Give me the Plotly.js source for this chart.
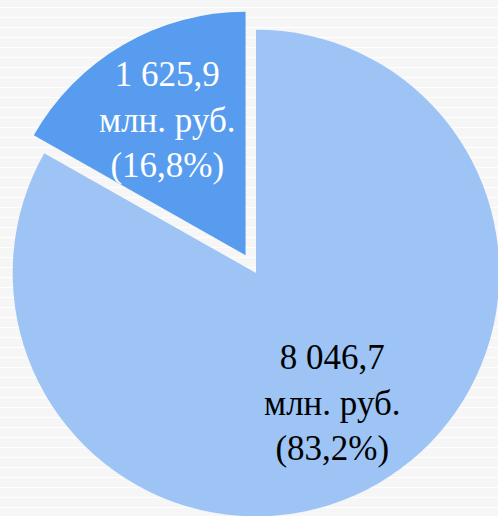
<!DOCTYPE html>
<html>
<head>
<meta charset="utf-8">
<script src="https://cdn.plot.ly/plotly-3.0.1.min.js"></script>
<style>
  html, body { margin: 0; padding: 0; width: 498px; height: 516px; overflow: hidden; }
  body {
    background-color: #f6f6f6;
    background-image: repeating-linear-gradient(to bottom, #f6f6f6 0px, #f6f6f6 7px, #ffffff 7px, #ffffff 8px, #f6f6f6 8px, #f6f6f6 10px);
    position: relative;
  }
  #chart { position: absolute; left: -8px; top: 9px; width: 528px; height: 528px; }
</style>
</head>
<body>
<div id="chart"></div>
<script>
// ---- data ----
var categories = ["Часть 2", "Часть 1"];
var values = [8046.7, 1625.9];
var unitLabel = "млн. руб.";
var sliceColors = ["#9dc4f5", "#579cee"];
var textColors = ["#000000", "#ffffff"];

// ---- formatting helpers ----
function fmtNum(v) {
  var parts = v.toFixed(1).split(".");
  var intPart = parts[0].replace(/\B(?=(\d{3})+(?!\d))/g, " ");
  return intPart + "," + parts[1];
}
var total = values.reduce(function (a, b) { return a + b; }, 0);

var pulls = [0, 0.085];
var labelRadius = [0.62, 0.645]; // fraction of radius along slice mid-angle

var trace = {
  type: "pie",
  labels: categories,
  values: values,
  sort: false,
  direction: "clockwise",
  rotation: 0,
  pull: pulls,
  marker: { colors: sliceColors, line: { width: 0 } },
  textinfo: "none",
  hoverinfo: "skip",
  showlegend: false,
  domain: { x: [0, 1], y: [0, 1] }
};

// label annotations placed along each slice's mid-angle (clockwise from 12 o'clock)
var maxPull = Math.max.apply(null, pulls);
var rPaper = 0.5 / (1 + maxPull);
var annotations = [];
var cum = 0;
for (var i = 0; i < values.length; i++) {
  var frac = values[i] / total;
  var mid = (cum + frac / 2) * 2 * Math.PI;
  cum += frac;
  var dx = Math.sin(mid), dy = Math.cos(mid);
  var d = (pulls[i] + labelRadius[i]) * rPaper;
  var pct = (frac * 100).toFixed(1).replace(".", ",");
  annotations.push({
    xref: "paper", yref: "paper",
    x: 0.5 + dx * d, y: 0.5 + dy * d,
    xanchor: "center", yanchor: "middle",
    showarrow: false, align: "center",
    text: fmtNum(values[i]) + "<br>" + unitLabel + "<br>(" + pct + "%)",
    font: { family: "Liberation Serif, Times New Roman, serif", size: 35, color: textColors[i] }
  });
}

var layout = {
  width: 528, height: 528,
  margin: { l: 0, r: 0, t: 0, b: 0, pad: 0 },
  paper_bgcolor: "rgba(0,0,0,0)",
  plot_bgcolor: "rgba(0,0,0,0)",
  showlegend: false,
  annotations: annotations
};

Plotly.newPlot("chart", [trace], layout, { displayModeBar: false, staticPlot: true });
</script>
</body>
</html>
